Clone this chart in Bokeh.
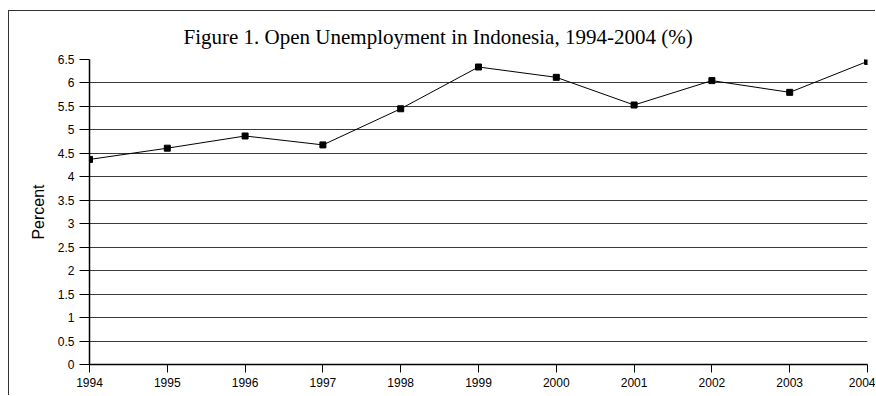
from bokeh.plotting import figure
from bokeh.models import Range1d, FixedTicker, CustomJSTickFormatter
from bokeh.embed import file_html
from bokeh.resources import INLINE

years = [1994, 1995, 1996, 1997, 1998, 1999, 2000, 2001, 2002, 2003, 2004]
unemployment = [4.37, 4.61, 4.87, 4.68, 5.45, 6.34, 6.12, 5.53, 6.05, 5.80, 6.46]
y_ticks = [0, 0.5, 1, 1.5, 2, 2.5, 3, 3.5, 4, 4.5, 5, 5.5, 6, 6.5]
title_text = "Figure 1. Open Unemployment in Indonesia, 1994-2004 (%)"
y_label = "Percent"

p = figure(width=867, height=385, output_backend="svg", toolbar_location=None,
           x_range=Range1d(1994, 2004), y_range=Range1d(0, 6.5),
           min_border_left=80, min_border_right=9, min_border_top=48, min_border_bottom=32,
           title=title_text)
p.styles = {"margin-left": "8px", "margin-top": "10px",
            "border-left": "1px solid #333", "border-top": "1px solid #333"}
p.outline_line_color = None
p.background_fill_color = "white"
p.border_fill_color = "white"

p.title.text_font = "Liberation Serif"
p.title.text_font_size = "21px"
p.title.text_font_style = "normal"
p.title.text_color = "black"
p.title.align = "left"
p.title.offset = 94
p.title.standoff = 22

# grid
p.xgrid.grid_line_color = None
p.ygrid.ticker = FixedTicker(ticks=y_ticks)
p.ygrid.grid_line_color = "#3a3a3a"
p.ygrid.grid_line_width = 1

# axes
p.xaxis.ticker = FixedTicker(ticks=years)
p.xaxis.formatter = CustomJSTickFormatter(code="return tick.toFixed(0);")
p.yaxis.ticker = FixedTicker(ticks=y_ticks)
p.yaxis.formatter = CustomJSTickFormatter(code="return String(tick);")
for ax in (p.xaxis, p.yaxis):
    ax.axis_line_color = "black"
    ax.axis_line_width = 1.5
    ax.major_tick_line_color = "black"
    ax.major_tick_line_width = 1
    ax.minor_tick_line_color = None
    ax.major_tick_in = 0
    ax.major_label_text_font = "Liberation Sans"
    ax.major_label_text_font_size = "12px"
    ax.major_label_text_color = "black"
p.xaxis.major_tick_out = 8
p.yaxis.major_tick_out = 10
p.xaxis.major_label_standoff = 5
p.yaxis.major_label_standoff = 5
p.yaxis.axis_label = y_label
p.yaxis.axis_label_text_font = "Liberation Sans"
p.yaxis.axis_label_text_font_style = "normal"
p.yaxis.axis_label_text_font_size = "16px"
p.yaxis.axis_label_text_color = "black"
p.yaxis.axis_label_standoff = 8

# series
p.line(years, unemployment, line_color="black", line_width=1)
p.scatter(years, unemployment, marker="square", size=6, fill_color="black", line_color="black")

open("out.html", "w").write(file_html(p, INLINE))
